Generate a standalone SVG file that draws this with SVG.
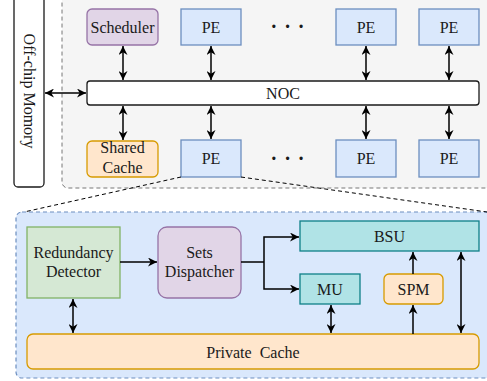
<svg xmlns="http://www.w3.org/2000/svg" width="487" height="381" viewBox="0 0 487 381">
<style>
text{font-family:"Liberation Serif","Times New Roman","DejaVu Serif",serif;font-size:16px;fill:#1a1a1a;text-anchor:middle}
.dots{font-size:20px;font-weight:bold;letter-spacing:1px}
.pe{fill:#dae8fc;stroke:#6c8ebf;stroke-width:1.3}
.pur{fill:#e1d5e7;stroke:#9673a6;stroke-width:1.3}
.org{fill:#ffe6cc;stroke:#d79b00;stroke-width:1.3}
.grn{fill:#d5e8d4;stroke:#82b366;stroke-width:1.3}
.tea{fill:#b0e3e6;stroke:#0e8088;stroke-width:1.3}
.ln{fill:none;stroke:#000;stroke-width:1.5}
.bi{marker-start:url(#ah);marker-end:url(#ah)}
.one{marker-end:url(#ah)}
.dash{fill:none;stroke:#000;stroke-width:1;stroke-dasharray:4 3}
</style>
<defs>
<marker id="ah" viewBox="0 0 10 10" refX="10" refY="5" markerWidth="9" markerHeight="9" markerUnits="userSpaceOnUse" orient="auto-start-reverse">
<path d="M0,0 L10,5 L0,10 L3,5 z" fill="#000"/>
</marker>
</defs>
<g id="soc-container">
<rect x="62" y="-6" width="432" height="194" rx="6" fill="#f5f5f5" stroke="#777" stroke-width="1" stroke-dasharray="4 3"/>
</g>
<g id="pe-container">
<rect x="16" y="212" width="476" height="166" rx="6" fill="#dae8fc" stroke="#6c8ebf" stroke-width="1.2" stroke-dasharray="4 3"/>
</g>
<g id="offchip">
<rect x="14" y="-4" width="30" height="191" rx="4" fill="#fff" stroke="#1a1a1a" stroke-width="1.3"/>
<text transform="translate(29,91) rotate(90)" y="5.5">Off-chip Momory</text>
</g>
<g id="scheduler"><rect class="pur" x="87" y="9" width="71" height="36" rx="5"/><text x="122.5" y="32.5">Scheduler</text></g>
<g id="pe-t1"><rect class="pe" x="181" y="9" width="60" height="36"/><text x="211" y="32.5">PE</text></g>
<g id="dots-t"><text class="dots" x="288" y="33">· · ·</text></g>
<g id="pe-t2"><rect class="pe" x="336" y="9" width="60" height="36"/><text x="366" y="32.5">PE</text></g>
<g id="pe-t3"><rect class="pe" x="419" y="9" width="60" height="36"/><text x="449" y="32.5">PE</text></g>
<g id="noc"><rect x="87" y="81" width="392" height="24" rx="3" fill="#fff" stroke="#1a1a1a" stroke-width="1.3"/><text x="283" y="98.5">NOC</text></g>
<g id="shared-cache"><rect class="org" x="87" y="141" width="71" height="36" rx="5"/><text x="122.5" y="153">Shared</text><text x="122.5" y="172.5">Cache</text></g>
<g id="pe-b1"><rect class="pe" x="181" y="140" width="60" height="37"/><text x="211" y="164">PE</text></g>
<g id="dots-b"><text class="dots" x="288" y="165">· · ·</text></g>
<g id="pe-b2"><rect class="pe" x="336" y="140" width="60" height="37"/><text x="366" y="164">PE</text></g>
<g id="pe-b3"><rect class="pe" x="419" y="140" width="60" height="37"/><text x="449" y="164">PE</text></g>
<g id="redundancy"><rect class="grn" x="27" y="227" width="93" height="71"/><text x="73.5" y="257.5">Redundancy</text><text x="73.5" y="276.5">Detector</text></g>
<g id="dispatcher"><rect class="pur" x="158" y="227" width="83" height="71" rx="9"/><text x="199.5" y="257.5">Sets</text><text x="199.5" y="276.5">Dispatcher</text></g>
<g id="bsu"><rect class="tea" x="300" y="221" width="179" height="30"/><text x="389.5" y="241.5">BSU</text></g>
<g id="mu"><rect class="tea" x="300" y="274" width="60" height="30"/><text x="330" y="294.5">MU</text></g>
<g id="spm"><rect class="org" x="384" y="274" width="59" height="30" rx="5"/><text x="413.5" y="294.5">SPM</text></g>
<g id="private-cache"><rect class="org" x="27" y="334" width="452" height="35" rx="6"/><text x="253" y="357.5" style="white-space:pre">Private  Cache</text></g>
<g id="connectors">
<line class="dash" x1="181" y1="177" x2="24" y2="212"/>
<line class="dash" x1="241" y1="177" x2="487" y2="212"/>
<line class="ln bi" x1="45" y1="93" x2="86" y2="93"/>
<line class="ln bi" x1="123" y1="46" x2="123" y2="80"/>
<line class="ln bi" x1="211" y1="46" x2="211" y2="80"/>
<line class="ln bi" x1="366" y1="46" x2="366" y2="80"/>
<line class="ln bi" x1="449" y1="46" x2="449" y2="80"/>
<line class="ln bi" x1="123" y1="106" x2="123" y2="140"/>
<line class="ln bi" x1="211" y1="106" x2="211" y2="139"/>
<line class="ln bi" x1="366" y1="106" x2="366" y2="139"/>
<line class="ln bi" x1="449" y1="106" x2="449" y2="139"/>
<line class="ln one" x1="120" y1="262" x2="157" y2="262"/>
<polyline class="ln" points="241,262 264,262"/>
<polyline class="ln one" points="264,262 264,237 299,237"/>
<polyline class="ln one" points="264,262 264,289 299,289"/>
<line class="ln bi" x1="73" y1="299" x2="73" y2="333"/>
<line class="ln bi" x1="331" y1="305" x2="331" y2="333"/>
<line class="ln one" x1="413" y1="334" x2="413" y2="305"/>
<line class="ln one" x1="413" y1="274" x2="413" y2="252"/>
<line class="ln bi" x1="461" y1="252" x2="461" y2="333"/>
</g>
</svg>
